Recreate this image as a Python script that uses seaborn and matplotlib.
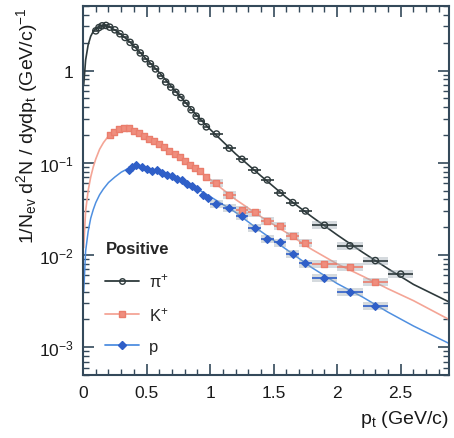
import numpy as np
import pandas as pd
import matplotlib
matplotlib.use("Agg")
import matplotlib.pyplot as plt
import matplotlib.ticker as mticker
from matplotlib.lines import Line2D
import seaborn as sns

# measured spectra (pt bin centre, yield, bin half width)
pi_pt = [0.1, 0.125, 0.15, 0.18, 0.21, 0.25, 0.29, 0.33, 0.37, 0.41, 0.45, 0.49,
         0.53, 0.57, 0.61, 0.65, 0.69, 0.73, 0.77, 0.81, 0.85, 0.89, 0.93, 0.97,
         1.05, 1.15, 1.25, 1.35, 1.45, 1.55, 1.65, 1.75, 1.9, 2.1, 2.3, 2.5]
pi_y = [2.69, 2.92, 3.05, 3.08, 2.95, 2.76, 2.5, 2.28, 2.02, 1.78, 1.55, 1.34,
        1.18, 1.04, 0.88, 0.75, 0.66, 0.58, 0.51, 0.44, 0.375, 0.32, 0.28, 0.245,
        0.205, 0.144, 0.109, 0.083, 0.065, 0.047, 0.037, 0.030, 0.021, 0.0126, 0.0087, 0.0062]
pi_hw = [0.02] * 24 + [0.05] * 8 + [0.1] * 4

ka_pt = [0.21, 0.24, 0.28, 0.32, 0.36, 0.40, 0.44, 0.48, 0.52, 0.56, 0.60, 0.64,
         0.68, 0.72, 0.76, 0.80, 0.84, 0.88, 0.92, 0.97, 1.05, 1.15, 1.25, 1.35,
         1.45, 1.55, 1.65, 1.75, 1.9, 2.1, 2.3]
ka_y = [0.20, 0.217, 0.232, 0.236, 0.236, 0.223, 0.209, 0.195, 0.18, 0.17, 0.16, 0.148,
        0.135, 0.125, 0.115, 0.104, 0.095, 0.088, 0.082, 0.070, 0.060, 0.045, 0.031, 0.029,
        0.0234, 0.0207, 0.0162, 0.0134, 0.008, 0.0074, 0.0051]
ka_hw = [0.02] * 20 + [0.05] * 8 + [0.1] * 3

pr_pt = [0.36, 0.385, 0.42, 0.46, 0.50, 0.54, 0.58, 0.62, 0.66, 0.70, 0.74, 0.78,
         0.82, 0.86, 0.90, 0.94, 0.98, 1.05, 1.15, 1.25, 1.35, 1.45, 1.55, 1.65,
         1.75, 1.9, 2.1, 2.3]
pr_y = [0.084, 0.091, 0.095, 0.091, 0.086, 0.081, 0.083, 0.077, 0.074, 0.071, 0.067, 0.065,
        0.059, 0.056, 0.052, 0.045, 0.041, 0.036, 0.0326, 0.0265, 0.0195, 0.0149, 0.0137, 0.0102,
        0.0081, 0.0056, 0.0040, 0.0028]
pr_hw = [0.02] * 17 + [0.05] * 8 + [0.1] * 3

# fit curves
fit_pt = [0.005, 0.02, 0.04, 0.06, 0.08, 0.1, 0.13, 0.16, 0.2, 0.25, 0.3, 0.35, 0.4,
          0.5, 0.6, 0.7, 0.8, 0.9, 1.0, 1.2, 1.4, 1.6, 1.8, 2.0, 2.2, 2.4, 2.6, 2.88]
fit_pi = [0.7, 1.3, 1.9, 2.35, 2.65, 2.85, 3.05, 3.1, 3.0, 2.75, 2.45, 2.15, 1.85,
          1.32, 0.95, 0.66, 0.46, 0.32, 0.23, 0.125, 0.072, 0.042, 0.026, 0.0165,
          0.0107, 0.0071, 0.0048, 0.0031]
fit_ka = [0.012, 0.03, 0.05, 0.07, 0.09, 0.11, 0.14, 0.165, 0.195, 0.218, 0.232, 0.236, 0.228,
          0.19, 0.157, 0.127, 0.103, 0.084, 0.066, 0.040, 0.026, 0.0175, 0.0115, 0.0080,
          0.0059, 0.0043, 0.0032, 0.0020]
fit_pr = [0.004, 0.011, 0.018, 0.025, 0.031, 0.037, 0.045, 0.052, 0.061, 0.07, 0.079, 0.086, 0.089,
          0.088, 0.08, 0.071, 0.061, 0.052, 0.043, 0.029, 0.018, 0.0115, 0.0073, 0.0049,
          0.0035, 0.0024, 0.0017, 0.0011]

sys_rel = 0.10  # relative half height of the systematic boxes

species = [
    ("$\\pi^{+}$", pi_pt, pi_y, pi_hw, fit_pi, "#2e3a3c", "#2e3a3c", "o", "none", 1.2),
    ("K$^{+}$", ka_pt, ka_y, ka_hw, fit_ka, "#f4a596", "#ea7d6c", "s", "#ef8e7e", 1.2),
    ("p", pr_pt, pr_y, pr_hw, fit_pr, "#4f8fe0", "#2f5fc8", "D", "#2f5fc8", 1.1),
]

sns.set_theme(style="ticks")
plt.rcParams["font.family"] = ["Liberation Sans", "DejaVu Sans"]
plt.rcParams["mathtext.default"] = "regular"

fig = plt.figure(figsize=(4.54, 4.39), dpi=100)
ax = fig.add_axes([0.183, 0.1435, 0.806, 0.8405])

frame_col = "#34495a"
handles = []
for name, pt, y, hw, fit, lcol, mcol, mk, mface, lw in species:
    pt = np.array(pt)
    y = np.array(y)
    hw = np.array(hw)
    sns.lineplot(x=fit_pt, y=fit, ax=ax, color=lcol, lw=lw, sort=False, zorder=2)
    # systematic boxes for the wide bins
    big = hw > 0.03 if name != "$\\pi^{+}$" else hw > 0.07
    ax.bar(pt[big], y[big] * 2 * sys_rel, bottom=y[big] * (1 - sys_rel),
           width=2 * hw[big], color="#97a4ad", alpha=0.4, lw=0, zorder=3)
    ax.errorbar(pt, y, xerr=hw, fmt="none", ecolor=mcol, elinewidth=1.2, zorder=4)
    df = pd.DataFrame({"pt": pt, "y": y})
    sns.scatterplot(data=df, x="pt", y="y", ax=ax, marker=mk, s=20 if mk != "D" else 15,
                    facecolor=mface, edgecolor=mcol, linewidth=1.0, zorder=5)
    handles.append(Line2D([], [], color=lcol, lw=1.3, marker=mk, markersize=4,
                          markerfacecolor=mface, markeredgecolor=mcol))

ax.set_yscale("log")
ax.set_xlim(0, 2.88)
ax.set_ylim(5e-4, 5)

ax.xaxis.set_major_locator(mticker.MultipleLocator(0.5))
ax.xaxis.set_minor_locator(mticker.MultipleLocator(0.1))
ax.xaxis.set_major_formatter(mticker.FuncFormatter(lambda v, p: f"{v:g}"))
ax.yaxis.set_major_locator(mticker.LogLocator(base=10, numticks=10))
ax.yaxis.set_minor_locator(mticker.LogLocator(base=10, subs=np.arange(2, 10), numticks=20))
ax.yaxis.set_minor_formatter(mticker.NullFormatter())
ax.yaxis.set_major_formatter(mticker.FuncFormatter(
    lambda v, p: "1" if abs(v - 1) < 1e-9 else f"$10^{{{int(round(np.log10(v)))}}}$"))

ax.tick_params(which="both", direction="in", top=True, right=True, color=frame_col,
               labelsize=12.5, labelcolor="#1a1a1a")
ax.tick_params(which="major", length=8, width=1.2, pad=7)
ax.tick_params(which="minor", length=4, width=1.0)
for s in ax.spines.values():
    s.set_color(frame_col)
    s.set_linewidth(1.5)

ax.set_xlabel("p$_{t}$ (GeV/c)", fontsize=14, loc="right", labelpad=6, color="#1a1a1a")
ax.set_ylabel("1/N$_{ev}$ d$^{2}$N / dydp$_{t}$ (GeV/c)$^{-1}$", fontsize=14, loc="top",
              color="#1a1a1a")
ax.yaxis.set_label_coords(-0.117, 1.0)

leg = ax.legend(handles, [s[0] for s in species], title="Positive", loc="upper left",
                bbox_to_anchor=(0.02, 0.405), frameon=False, fontsize=12,
                labelspacing=0.95, handlelength=2.0, handletextpad=0.6,
                alignment="left")
leg.get_title().set_fontweight("bold")
leg.get_title().set_fontsize(12)

fig.savefig("out.png", dpi=100)
